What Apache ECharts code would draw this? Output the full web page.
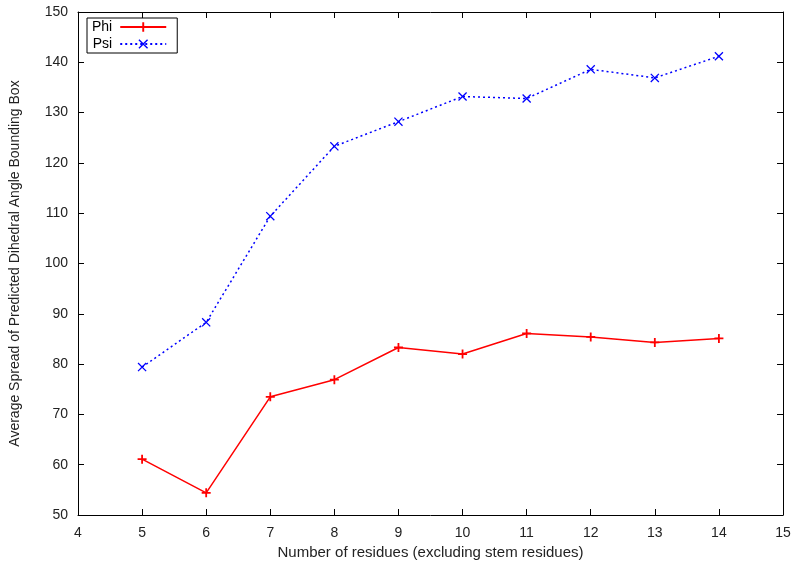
<!DOCTYPE html>
<html>
<head>
<meta charset="utf-8">
<script src="https://cdn.jsdelivr.net/npm/echarts@6/dist/echarts.min.js"></script>
<style>
  html, body { margin: 0; padding: 0; background: #fff; }
  #chart { width: 800px; height: 569px; }
</style>
</head>
<body>
<div id="chart"></div>
<script>
// residue counts on the x axis
const residues = [5, 6, 7, 8, 9, 10, 11, 12, 13, 14];
const phiSpread = [61.1, 54.4, 73.5, 76.9, 83.3, 82.0, 86.1, 85.4, 84.3, 85.1];
const psiSpread = [79.4, 88.3, 109.4, 123.3, 128.2, 133.2, 132.8, 138.6, 136.9, 141.2];

// gnuplot style markers as filled shapes
const plusPath = 'path://M0,4L10,4L10,6L0,6Z M4,0L6,0L6,10L4,10Z';
const crossPath = 'path://M0,1L1,0L10,9L9,10Z M9,0L10,1L1,10L0,9Z';

const font = 'Liberation Sans, Arial, Helvetica, sans-serif';
const pairs = (ys) => residues.map((x, i) => [x, ys[i]]);

const chart = echarts.init(document.getElementById('chart'));

const frameAxis = {
  axisLine: { show: true, lineStyle: { color: '#000', width: 1 } },
  axisTick: { show: true, inside: true, length: 6, lineStyle: { color: '#000' } },
  splitLine: { show: false }
};

chart.setOption({
  animation: false,
  backgroundColor: '#fff',
  grid: { left: 77, right: 17, top: 12, bottom: 54 },
  legend: {
    left: 87,
    top: 18,
    orient: 'vertical',
    align: 'right',
    itemWidth: 46,
    itemHeight: 12,
    itemGap: 3,
    padding: [2, 10, 2, 5],
    borderColor: '#000',
    borderWidth: 1,
    borderRadius: 0,
    textStyle: { fontFamily: font, fontSize: 14, color: '#000', padding: [0, 3, 0, 0] },
    data: ['Phi', 'Psi']
  },
  xAxis: [
    Object.assign({
      type: 'value', min: 4, max: 15, interval: 1, position: 'bottom',
      name: 'Number of residues (excluding stem residues)',
      nameLocation: 'middle', nameGap: 30,
      nameTextStyle: { fontFamily: font, fontSize: 15, color: '#222' },
      axisLabel: { fontFamily: font, fontSize: 14, color: '#222', margin: 11 }
    }, frameAxis),
    Object.assign({
      type: 'value', min: 4, max: 15, interval: 1, position: 'top',
      axisLabel: { show: false }
    }, frameAxis)
  ],
  yAxis: [
    Object.assign({
      type: 'value', min: 50, max: 150, interval: 10, position: 'left',
      name: 'Average Spread of Predicted Dihedral Angle Bounding Box',
      nameLocation: 'middle', nameGap: 56,
      nameTextStyle: { fontFamily: font, fontSize: 14, color: '#222' },
      axisLabel: { fontFamily: font, fontSize: 14, color: '#222', margin: 10 }
    }, frameAxis),
    Object.assign({
      type: 'value', min: 50, max: 150, interval: 10, position: 'right',
      axisLabel: { show: false }
    }, frameAxis)
  ],
  series: [
    {
      name: 'Phi',
      type: 'line',
      data: pairs(phiSpread),
      symbol: plusPath,
      symbolSize: 9,
      showAllSymbol: true,
      lineStyle: { color: '#ff0000', width: 1.5, type: 'solid' },
      itemStyle: { color: '#ff0000' }
    },
    {
      name: 'Psi',
      type: 'line',
      data: pairs(psiSpread),
      symbol: crossPath,
      symbolSize: 9,
      showAllSymbol: true,
      lineStyle: { color: '#0000ff', width: 1.5, type: [2, 3] },
      itemStyle: { color: '#0000ff' }
    }
  ]
});
</script>
</body>
</html>
